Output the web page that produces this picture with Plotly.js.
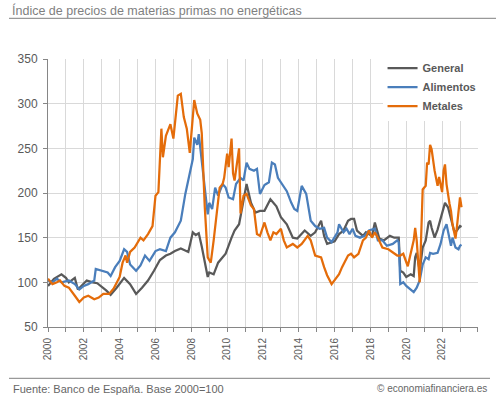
<!DOCTYPE html>
<html>
<head>
<meta charset="utf-8">
<script src="https://cdn.plot.ly/plotly-3.0.1.min.js"></script>
<style>
  html, body { margin: 0; padding: 0; background: #fff; }
  #chart { width: 499px; height: 410px; }
</style>
</head>
<body>
<div id="chart"></div>
<script>
// ---- Data ----
const seriesNames = ["General", "Alimentos", "Metales"];
const tickYears = ["2000","2002","2004","2006","2008","2010","2012","2014","2016","2018","2020","2022"];

const generalDates = ["2000-01","2000-05","2000-10","2001-01","2001-03","2001-07","2001-09","2002-03","2002-07","2002-10","2003-04","2003-07","2003-11","2004-04","2004-08","2004-12","2005-04","2005-08","2005-12","2006-04","2006-08","2006-11","2007-02","2007-06","2007-11","2008-02","2008-04","2008-06","2008-08","2008-09","2008-12","2009-01","2009-04","2009-07","2009-12","2010-04","2010-06","2010-09","2010-11","2011-02","2011-05","2011-08","2011-11","2012-02","2012-06","2012-10","2013-01","2013-05","2013-09","2013-12","2014-05","2014-09","2014-12","2015-04","2015-06","2015-08","2016-01","2016-04","2016-07","2016-10","2016-12","2017-02","2017-04","2017-08","2017-10","2018-02","2018-04","2018-07","2018-10","2019-02","2019-05","2019-08","2019-09","2019-11","2020-01","2020-04","2020-06","2020-07","2020-08","2020-09","2020-10","2020-12","2021-02","2021-04","2021-05","2021-06","2021-08","2021-10","2022-01","2022-03","2022-05","2022-07","2022-09","2022-10","2022-12","2023-01","2023-02"];
const generalValues = [96,104,109,105,100,105,92,102,100,99,91,86,94,105,98,87,94,102,113,125,130,132,135,138,134,156,153,155,140,131,106,111,109,122,132,150,158,165,184,210,189,178,180,180,193,185,173,165,150,149,158,152,156,169,152,143,146,154,158,169,171,171,158,152,156,152,167,149,147,152,150,150,113,111,106,109,107,128,133,120,113,139,147,167,169,161,150,159,176,189,184,171,158,156,161,163,162];

const alimentosDates = ["2000-01","2000-04","2000-07","2000-10","2001-03","2001-07","2001-10","2002-01","2002-04","2002-08","2002-09","2003-01","2003-05","2003-07","2003-10","2004-01","2004-04","2004-06","2004-08","2004-12","2005-03","2005-06","2005-09","2006-01","2006-04","2006-08","2006-11","2007-02","2007-06","2007-09","2007-11","2008-02","2008-03","2008-05","2008-06","2008-07","2008-09","2008-12","2009-01","2009-03","2009-05","2009-07","2009-10","2009-12","2010-02","2010-05","2010-07","2010-10","2010-12","2011-02","2011-04","2011-07","2011-09","2011-11","2012-02","2012-05","2012-07","2012-09","2012-11","2013-02","2013-05","2013-08","2013-10","2013-12","2014-03","2014-06","2014-09","2014-12","2015-03","2015-06","2015-08","2015-11","2016-03","2016-04","2016-07","2016-09","2016-11","2017-01","2017-03","2017-06","2017-09","2017-12","2018-04","2018-06","2018-09","2018-12","2019-04","2019-07","2019-08","2019-09","2019-11","2020-01","2020-04","2020-06","2020-08","2020-10","2020-12","2021-02","2021-04","2021-05","2021-07","2021-10","2021-12","2022-02","2022-04","2022-05","2022-07","2022-08","2022-10","2022-12","2023-01","2023-02"];
const alimentosValues = [102,100,104,100,102,98,92,96,98,102,115,113,111,107,117,124,137,134,120,113,119,130,124,135,137,135,150,156,169,199,216,238,262,254,266,251,217,176,189,182,206,197,210,206,195,193,210,217,214,234,227,225,227,199,209,212,234,232,217,210,202,189,182,180,208,199,169,163,160,161,150,145,156,165,156,160,154,160,152,150,152,158,160,147,147,141,143,147,145,98,100,96,92,89,94,102,120,128,126,133,132,133,143,158,165,158,141,150,139,137,141,142];

const metalesDates = ["2000-01","2000-04","2000-07","2000-09","2000-12","2001-03","2001-07","2001-10","2002-01","2002-04","2002-08","2002-11","2003-02","2003-06","2003-09","2004-01","2004-03","2004-05","2004-06","2004-08","2004-11","2005-03","2005-05","2005-08","2005-11","2006-01","2006-03","2006-05","2006-06","2006-08","2006-11","2007-01","2007-04","2007-06","2007-08","2007-10","2007-12","2008-03","2008-05","2008-07","2008-08","2008-10","2008-12","2009-02","2009-04","2009-06","2009-08","2009-10","2009-11","2010-01","2010-02","2010-04","2010-05","2010-06","2010-09","2010-10","2010-12","2011-02","2011-05","2011-07","2011-09","2011-11","2012-02","2012-04","2012-06","2012-08","2012-10","2013-01","2013-03","2013-05","2013-09","2013-12","2014-03","2014-07","2014-09","2014-12","2015-04","2015-06","2015-08","2015-11","2016-02","2016-04","2016-06","2016-10","2016-12","2017-02","2017-05","2017-08","2017-10","2017-12","2018-02","2018-04","2018-06","2018-09","2019-01","2019-04","2019-07","2019-09","2019-11","2020-02","2020-04","2020-06","2020-07","2020-08","2020-10","2020-11","2020-12","2021-02","2021-03","2021-04","2021-05","2021-06","2021-08","2021-10","2021-11","2022-01","2022-02","2022-03","2022-04","2022-06","2022-07","2022-08","2022-10","2022-11","2023-01","2023-02"];
const metalesValues = [104,98,100,102,96,94,85,78,83,85,81,83,87,87,93,106,122,130,122,134,139,150,147,154,163,197,201,272,240,264,277,261,309,311,285,272,245,304,289,282,267,185,128,122,147,177,206,210,217,244,229,261,222,214,250,177,197,199,186,182,154,152,167,156,147,156,154,160,147,139,143,139,143,152,147,130,128,117,108,98,104,109,117,130,132,128,132,147,150,158,150,156,150,139,137,133,130,130,132,118,132,147,161,147,100,165,204,208,234,232,254,249,225,208,218,201,225,232,210,188,180,165,149,163,195,184];

const seriesColors = ["#595959", "#4A7EBB", "#E46C0A"];

// ---- Chart ----
const FONT = "Liberation Sans, Arial, sans-serif";
const grid = "#d9d9d9";
const axisCol = "#868686";

const dates = [generalDates, alimentosDates, metalesDates];
const values = [generalValues, alimentosValues, metalesValues];
const traces = seriesNames.map((n, i) => ({
  type: "scatter", mode: "lines", name: n,
  x: dates[i], y: values[i],
  line: { color: seriesColors[i], width: 2.25 },
  hoverinfo: "skip"
}));

const layout = {
  width: 499, height: 410,
  margin: { l: 48, r: 21, t: 59, b: 83, pad: 0 },
  paper_bgcolor: "#fff", plot_bgcolor: "#fff",
  font: { family: FONT, color: "#595959" },
  showlegend: true,
  title: {
    text: "Índice de precios de materias primas no energéticas",
    font: { family: FONT, size: 12.5, color: "#7f7f7f" },
    xref: "container", yref: "container",
    x: 12 / 499, xanchor: "left",
    y: 1 - 11 / 410, yanchor: "middle"
  },
  xaxis: {
    type: "date",
    range: ["2000-01-01", "2024-01-03"],
    tickmode: "array",
    tickvals: tickYears.map(y => y + "-01-01"),
    ticktext: tickYears,
    tickangle: -90,
    tickfont: { size: 10, color: "#595959" },
    ticks: "outside", ticklen: 4, tickcolor: axisCol,
    ticklabelstandoff: 2,
    showgrid: true, gridcolor: grid, gridwidth: 1,
    showline: true, linecolor: axisCol, linewidth: 1,
    zeroline: false,
    minor: { tickmode: "linear", tick0: "2000-01-01", dtick: "M12", showgrid: true, gridcolor: grid, gridwidth: 1, ticks: "outside", ticklen: 4, tickcolor: axisCol }
  },
  yaxis: {
    range: [50, 350], dtick: 50, tick0: 50,
    tickfont: { size: 12, color: "#595959" },
    ticks: "outside", ticklen: 4, tickcolor: axisCol,
    ticklabelstandoff: 3,
    showgrid: true, gridcolor: grid, gridwidth: 1,
    showline: true, linecolor: axisCol, linewidth: 1,
    zeroline: false
  },
  legend: {
    x: 0.778, y: 1.02, xanchor: "left", yanchor: "top",
    bgcolor: "#fff", borderwidth: 0,
    itemwidth: 30,
    font: { family: FONT, size: 11, color: "#595959", weight: "bold" }
  },
  shapes: [
    { type: "line", xref: "paper", yref: "paper", x0: (9 - 48) / 430, x1: (496 - 48) / 430, y0: (327 - 18.3) / 268, y1: (327 - 18.3) / 268, line: { color: "#808080", width: 1 } },
    { type: "line", xref: "paper", yref: "paper", x0: (9 - 48) / 430, x1: (490 - 48) / 430, y0: (327 - 378.3) / 268, y1: (327 - 378.3) / 268, line: { color: "#808080", width: 1 } }
  ],
  annotations: [
    { xref: "paper", yref: "paper", x: (11 - 48) / 430, y: (327 - 388.5) / 268, xanchor: "left", yanchor: "middle", showarrow: false, text: "Fuente: Banco de España. Base 2000=100", font: { family: FONT, size: 11, color: "#666" } },
    { xref: "paper", yref: "paper", x: (489 - 48) / 430, y: (327 - 388.5) / 268, xanchor: "right", yanchor: "middle", showarrow: false, text: "© economiafinanciera.es", font: { family: FONT, size: 10, color: "#666" } }
  ]
};

Plotly.newPlot("chart", traces, layout, { staticPlot: true, displayModeBar: false });
</script>
</body>
</html>
